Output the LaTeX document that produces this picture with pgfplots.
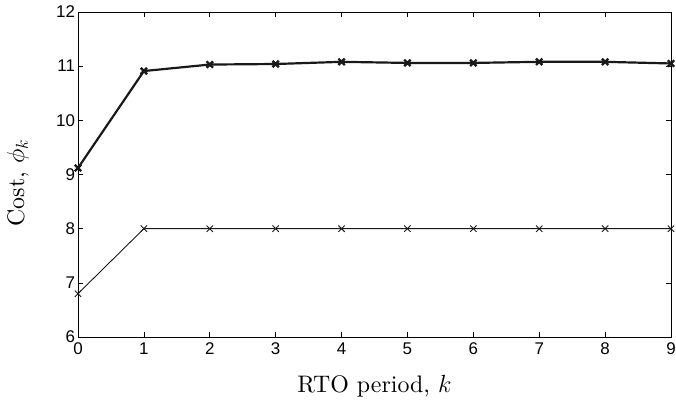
\documentclass[border=0pt]{standalone}
\usepackage{fontspec}
\usepackage{pgfplots}
\pgfplotsset{compat=1.18}
\newfontfamily\helv{Liberation Sans}
\newfontfamily\lmten{lmroman10-regular.otf}

\begin{document}
\begin{tikzpicture}
% fixed frame around the plot area (593 x 325)
\useasboundingbox (-78bp,-63bp) rectangle (598bp,337bp);
\begin{axis}[
  at={(0,0)}, anchor=south west,
  scale only axis,
  width=593bp, height=325bp,
  xmin=0, xmax=9, ymin=6, ymax=12,
  xtick={0,...,9}, ytick={6,...,12},
  tick align=inside,
  major tick length=5bp,
  tick style={black, line width=0.6pt},
  axis line style={line width=0.8pt},
  /pgf/number format/assume math mode=true,
  tick label style={font=\helv\fontsize{17}{17}\selectfont},
  yticklabel style={xshift=0.5bp},
  xticklabel style={yshift=-2bp},
  label style={font=\lmten\fontsize{24}{26}\selectfont},
  xlabel={RTO period, $k$},
  ylabel={Cost, $\phi_k$},
  xlabel style={at={(axis description cs:0.5,-0.1723)}, anchor=base},
  ylabel style={at={(axis description cs:-0.0908,0.474)}, anchor=base},
  clip=false,
]
\addplot[black!90, line width=2.2pt, mark=x, mark size=4.5bp,
         mark options={line width=2.4pt}]
  coordinates {(0,9.12) (1,10.91) (2,11.03) (3,11.04) (4,11.08)
               (5,11.06) (6,11.06) (7,11.08) (8,11.08) (9,11.05)};
\addplot[black!90, line width=0.9pt, mark=x, mark size=4.5bp,
         mark options={line width=0.9pt}]
  coordinates {(0,6.8) (1,8) (2,8) (3,8) (4,8)
               (5,8) (6,8) (7,8) (8,8) (9,8)};
\end{axis}
\end{tikzpicture}
\end{document}
